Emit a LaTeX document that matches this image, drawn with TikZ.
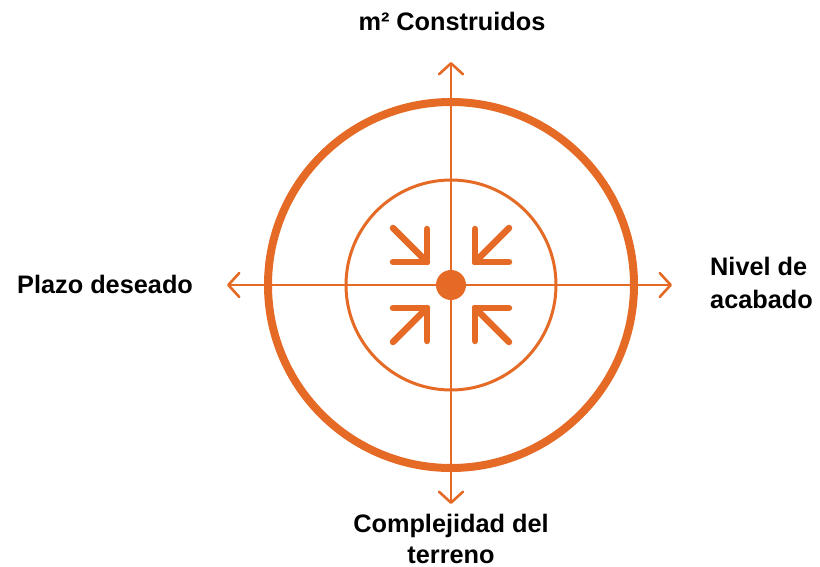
\documentclass[tikz,border=0pt]{standalone}
\usepackage{fontspec}
\setmainfont{Liberation Sans}
\usetikzlibrary{arrows.meta,calc}
\definecolor{orng}{RGB}{228,106,38}
\tikzset{
  axisline/.style={draw=orng, line width=2.6pt, {Straight Barb[round,length=11pt,width=24pt]}-{Straight Barb[round,length=11pt,width=24pt]}},
  inarrow/.style={draw=orng, line width=6.5pt, line cap=round, line join=round},
  lbl/.style={font=\bfseries\fontsize{25.3}{33}\selectfont, inner sep=0pt, text=black},
}
\begin{document}
\begin{tikzpicture}[x=1pt,y=-1pt]
\useasboundingbox (0,0) rectangle (820,567);
\coordinate (c) at (451,285);
% circles
\draw[orng, line width=8pt] (c) circle[radius=183];
\draw[orng, line width=3pt] (c) circle[radius=105];
% axes
\coordinate (L) at (227,285);
\coordinate (R) at (672,285);
\coordinate (T) at (451,62);
\coordinate (B) at (451,504);
\draw[axisline] (L) -- (R);
\draw[axisline] (T) -- (B);
% inward arrows
\foreach \sx/\sy in {-1/-1, 1/-1, -1/1, 1/1}{
  \draw[inarrow] ($(c)+(\sx*58,\sy*57)$) -- ($(c)+(\sx*24,\sy*23)$);
  \draw[inarrow] ($(c)+(\sx*24,\sy*56)$) -- ($(c)+(\sx*24,\sy*23)$) -- ($(c)+(\sx*58,\sy*23)$);
}
% centre dot
\node[circle, fill=orng, minimum size=30pt, inner sep=0pt] (dot) at (c) {};
% labels
\node[lbl, anchor=base] (top) at (452,31) {m² Construidos};
\node[lbl, anchor=base west] (left) at (17,293) {Plazo deseado};
\node[lbl, anchor=base west, align=left] (right) at (710,308) {Nivel de\\acabado};
\node[lbl, anchor=base, align=center, font=\bfseries\fontsize{25.3}{31}\selectfont] (bottom) at (451,563) {Complejidad del\\terreno};
\end{tikzpicture}
\end{document}
